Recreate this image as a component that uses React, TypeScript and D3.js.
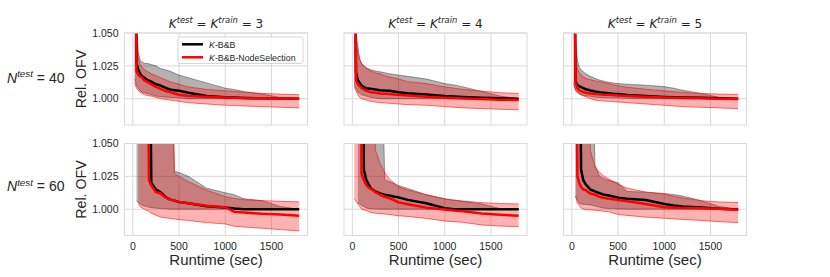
import React from 'react';
import * as d3 from 'd3';

const RUNTIME = [20, 40, 60, 80, 100, 125, 150, 175, 200, 250, 300, 350, 400, 450, 500, 600, 800, 1000, 1100, 1200, 1400, 1600, 1800];

const K_LIST = [3, 4, 5];
const N_LIST = [40, 60];
const X_TICKS = [0, 500, 1000, 1500];
const X_TICK_LABELS = ['0', '500', '1000', '1500'];
const Y_TICKS = [1.0, 1.025, 1.05];
const Y_TICK_LABELS = ['1.000', '1.025', '1.050'];
const SERIES = ['-B&B', '-B&B-NodeSelection'];

// N=40, K=3
const n40k3BaseMean = [1.2, 1.027, 1.022, 1.019, 1.017, 1.016, 1.0145, 1.0138, 1.013, 1.011, 1.010, 1.0085, 1.007, 1.0065, 1.006, 1.0045, 1.002, 1.0012, 1.0009, 1.0006, 1.0003, 1.0001, 1.0];
const n40k3BaseLo = [1.015, 1.010, 1.008, 1.006, 1.005, 1.0045, 1.004, 1.0035, 1.003, 1.002, 1.0015, 1.0012, 1.001, 1.0008, 1.0005, 1.0, 1.0, 1.0, 1.0, 1.0, 1.0, 1.0, 1.0];
const n40k3BaseHi = [1.2, 1.06, 1.035, 1.029, 1.028, 1.027, 1.027, 1.0265, 1.026, 1.025, 1.023, 1.022, 1.021, 1.0195, 1.018, 1.016, 1.012, 1.008, 1.007, 1.0055, 1.0035, 1.001, 1.0];
const n40k3NodeMean = [1.2, 1.021, 1.018, 1.017, 1.016, 1.014, 1.013, 1.012, 1.011, 1.009, 1.0075, 1.006, 1.005, 1.004, 1.003, 1.002, 1.0015, 1.001, 1.0008, 1.0006, 1.0003, 1.0001, 1.0];
const n40k3NodeLo = [1.012, 1.008, 1.006, 1.005, 1.004, 1.003, 1.0025, 1.0022, 1.002, 1.001, 1.0, 0.9995, 0.999, 0.9985, 0.998, 0.997, 0.996, 0.995, 0.9948, 0.9945, 0.994, 0.9935, 0.993];
const n40k3NodeHi = [1.2, 1.045, 1.03, 1.026, 1.024, 1.022, 1.021, 1.02, 1.019, 1.0175, 1.016, 1.0145, 1.013, 1.012, 1.011, 1.009, 1.007, 1.006, 1.0055, 1.005, 1.004, 1.0035, 1.003];

// N=40, K=4
const n40k4BaseMean = [1.2, 1.02, 1.014, 1.012, 1.010, 1.0088, 1.008, 1.0078, 1.0075, 1.007, 1.0065, 1.0062, 1.006, 1.0055, 1.005, 1.0042, 1.0032, 1.002, 1.0017, 1.0013, 1.0008, 1.0004, 1.0];
const n40k4BaseLo = [1.012, 1.008, 1.005, 1.004, 1.003, 1.0025, 1.002, 1.0015, 1.001, 1.0005, 1.0, 1.0, 1.0, 1.0, 1.0, 1.0, 1.0, 1.0, 1.0, 1.0, 1.0, 1.0, 1.0];
const n40k4BaseHi = [1.2, 1.05, 1.04, 1.03, 1.027, 1.025, 1.0235, 1.0228, 1.022, 1.021, 1.0205, 1.0198, 1.019, 1.0185, 1.018, 1.017, 1.015, 1.0115, 1.0105, 1.009, 1.0055, 1.002, 1.0];
const n40k4NodeMean = [1.2, 1.014, 1.011, 1.0095, 1.008, 1.007, 1.006, 1.0055, 1.005, 1.0045, 1.004, 1.0038, 1.0035, 1.0032, 1.003, 1.0025, 1.0015, 1.0008, 1.0005, 1.0002, 0.9998, 0.9993, 0.999];
const n40k4NodeLo = [1.01, 1.006, 1.003, 1.001, 1.0, 0.9995, 0.999, 0.9985, 0.998, 0.9975, 0.997, 0.9968, 0.9965, 0.9962, 0.996, 0.9955, 0.995, 0.994, 0.9935, 0.993, 0.9925, 0.992, 0.9915];
const n40k4NodeHi = [1.2, 1.045, 1.035, 1.03, 1.027, 1.025, 1.0235, 1.0222, 1.021, 1.0195, 1.019, 1.0175, 1.0165, 1.0158, 1.015, 1.013, 1.0115, 1.009, 1.008, 1.007, 1.0058, 1.0045, 1.004];

// N=40, K=5
const n40k5BaseMean = [1.2, 1.013, 1.0105, 1.0095, 1.0088, 1.008, 1.0072, 1.0068, 1.0063, 1.0055, 1.005, 1.0046, 1.0042, 1.0038, 1.0035, 1.0028, 1.002, 1.0014, 1.0012, 1.001, 1.0007, 1.0004, 1.0];
const n40k5BaseLo = [1.012, 1.006, 1.0045, 1.0035, 1.003, 1.0025, 1.0022, 1.002, 1.0018, 1.0012, 1.001, 1.0008, 1.0007, 1.0006, 1.0005, 1.0003, 1.0, 1.0, 1.0, 1.0, 1.0, 1.0, 1.0];
const n40k5BaseHi = [1.2, 1.045, 1.03, 1.024, 1.022, 1.0205, 1.019, 1.018, 1.017, 1.0155, 1.0142, 1.0133, 1.0125, 1.012, 1.0115, 1.011, 1.0103, 1.0092, 1.008, 1.0065, 1.004, 1.001, 1.0];
const n40k5NodeMean = [1.2, 1.012, 1.008, 1.0065, 1.0057, 1.005, 1.0046, 1.0043, 1.004, 1.0036, 1.0033, 1.0031, 1.003, 1.0028, 1.0025, 1.002, 1.0015, 1.001, 1.0008, 1.0006, 1.0003, 1.0, 0.9998];
const n40k5NodeLo = [1.01, 1.007, 1.005, 1.004, 1.003, 1.0022, 1.0015, 1.0008, 1.0, 0.999, 0.9985, 0.9982, 0.998, 0.9978, 0.9975, 0.997, 0.996, 0.995, 0.9945, 0.994, 0.9935, 0.993, 0.9925];
const n40k5NodeHi = [1.2, 1.03, 1.023, 1.02, 1.018, 1.0165, 1.0155, 1.015, 1.0145, 1.0135, 1.013, 1.012, 1.0115, 1.0105, 1.0098, 1.0087, 1.0072, 1.006, 1.0054, 1.0048, 1.004, 1.0035, 1.0033];

// N=60, K=3
const n60k3BaseMean = [null, null, null, null, null, null, null, 1.2, 1.02, 1.015, 1.013, 1.0095, 1.0075, 1.0065, 1.0055, 1.0045, 1.0023, 1.0013, 1.0005, 1.0, 1.0, 1.0, 1.0];
const n60k3BaseLo = [null, 1.006, 1.005, 1.004, 1.003, 1.0025, 1.002, 1.0015, 1.0012, 1.0008, 1.0005, 1.0003, 1.0, 1.0, 1.0, 1.0, 1.0, 1.0, 1.0, 1.0, 1.0, 1.0, 1.0];
const n60k3BaseHi = [null, 1.2, 1.2, 1.2, 1.2, 1.2, 1.2, 1.2, 1.2, 1.2, 1.2, 1.2, 1.2, 1.0287, 1.028, 1.025, 1.016, 1.0125, 1.011, 1.008, 1.0065, 1.002, 1.0];
const n60k3NodeMean = [null, null, null, null, null, null, 1.2, 1.022, 1.018, 1.013, 1.012, 1.009, 1.0075, 1.0065, 1.0055, 1.0045, 1.0027, 1.0015, 0.998, 0.9975, 0.9965, 0.996, 0.995];
const n60k3NodeLo = [null, null, 1.004, 1.002, 1.001, 1.0, 0.999, 0.9985, 0.997, 0.9955, 0.994, 0.9935, 0.993, 0.9925, 0.992, 0.9915, 0.9898, 0.9888, 0.987, 0.9865, 0.9855, 0.9845, 0.9835];
const n60k3NodeHi = [null, null, 1.2, 1.2, 1.2, 1.2, 1.2, 1.2, 1.2, 1.2, 1.2, 1.2, 1.2, 1.027, 1.025, 1.021, 1.0145, 1.0095, 1.0082, 1.0072, 1.0065, 1.006, 1.0056];

// N=60, K=4
const n60k4BaseMean = [null, null, null, null, 1.2, 1.03, 1.0225, 1.019, 1.016, 1.0135, 1.012, 1.011, 1.0105, 1.0097, 1.009, 1.0071, 1.0045, 1.0008, 1.0, 1.0, 1.0, 1.0, 1.0];
const n60k4BaseLo = [null, null, 1.005, 1.004, 1.003, 1.002, 1.001, 1.0005, 1.0003, 1.0002, 1.0, 1.0, 1.0, 1.0, 1.0, 1.0, 1.0, 1.0, 1.0, 1.0, 1.0, 1.0, 1.0];
const n60k4BaseHi = [null, null, 1.2, 1.2, 1.2, 1.2, 1.2, 1.2, 1.2, 1.2, 1.2, 1.0225, 1.021, 1.0195, 1.018, 1.0158, 1.011, 1.0078, 1.0071, 1.006, 1.004, 1.0005, 1.0];
const n60k4NodeMean = [null, null, null, 1.2, 1.027, 1.022, 1.0186, 1.0165, 1.0155, 1.013, 1.011, 1.0095, 1.0082, 1.007, 1.0052, 1.0038, 1.0012, 0.9998, 0.999, 0.9985, 0.9968, 0.9958, 0.995];
const n60k4NodeLo = [1.008, 1.006, 1.004, 1.002, 1.0, 0.9995, 0.999, 0.9982, 0.9975, 0.997, 0.9966, 0.9964, 0.996, 0.9955, 0.995, 0.9945, 0.993, 0.991, 0.9905, 0.99, 0.988, 0.9872, 0.9867];
const n60k4NodeHi = [1.2, 1.2, 1.2, 1.2, 1.2, 1.2, 1.2, 1.2, 1.2, 1.045, 1.035, 1.028, 1.023, 1.02, 1.017, 1.0145, 1.011, 1.008, 1.0066, 1.0062, 1.005, 1.0043, 1.004];

// N=60, K=5
const n60k5BaseMean = [null, null, null, 1.2, 1.03, 1.022, 1.019, 1.017, 1.015, 1.0135, 1.0122, 1.011, 1.0105, 1.0097, 1.0088, 1.008, 1.007, 1.004, 1.0028, 1.002, 1.0013, 1.0003, 0.9998];
const n60k5BaseLo = [null, 1.01, 1.007, 1.0046, 1.004, 1.0036, 1.0035, 1.0034, 1.0033, 1.0025, 1.0015, 1.0008, 1.0005, 1.0003, 1.0002, 1.0, 1.0, 1.0, 1.0, 1.0, 1.0, 1.0, 1.0];
const n60k5BaseHi = [null, 1.2, 1.2, 1.2, 1.2, 1.2, 1.2, 1.2, 1.2, 1.034, 1.025, 1.0232, 1.022, 1.021, 1.0202, 1.0135, 1.013, 1.012, 1.0112, 1.01, 1.0065, 1.002, 1.0];
const n60k5NodeMean = [null, 1.2, 1.025, 1.02, 1.017, 1.015, 1.0145, 1.013, 1.012, 1.011, 1.0095, 1.0085, 1.008, 1.0075, 1.007, 1.006, 1.004, 1.0015, 1.0012, 1.001, 1.0007, 1.0003, 0.9995];
const n60k5NodeLo = [null, 1.01, 1.0045, 1.003, 1.001, 1.0, 0.9998, 0.9996, 0.9995, 0.9992, 0.999, 0.9984, 0.998, 0.997, 0.996, 0.9953, 0.994, 0.9931, 0.9927, 0.9922, 0.9915, 0.9905, 0.9898];
const n60k5NodeHi = [null, 1.2, 1.2, 1.2, 1.2, 1.2, 1.2, 1.2, 1.045, 1.032, 1.028, 1.025, 1.023, 1.021, 1.019, 1.016, 1.013, 1.0115, 1.0098, 1.0085, 1.0065, 1.0055, 1.0051];

type Arr = (number | null)[];
type Band = { mean: Arr; lo: Arr; hi: Arr };

const PANELS: { base: Band; node: Band }[][] = [
  [
    { base: { mean: n40k3BaseMean, lo: n40k3BaseLo, hi: n40k3BaseHi }, node: { mean: n40k3NodeMean, lo: n40k3NodeLo, hi: n40k3NodeHi } },
    { base: { mean: n40k4BaseMean, lo: n40k4BaseLo, hi: n40k4BaseHi }, node: { mean: n40k4NodeMean, lo: n40k4NodeLo, hi: n40k4NodeHi } },
    { base: { mean: n40k5BaseMean, lo: n40k5BaseLo, hi: n40k5BaseHi }, node: { mean: n40k5NodeMean, lo: n40k5NodeLo, hi: n40k5NodeHi } },
  ],
  [
    { base: { mean: n60k3BaseMean, lo: n60k3BaseLo, hi: n60k3BaseHi }, node: { mean: n60k3NodeMean, lo: n60k3NodeLo, hi: n60k3NodeHi } },
    { base: { mean: n60k4BaseMean, lo: n60k4BaseLo, hi: n60k4BaseHi }, node: { mean: n60k4NodeMean, lo: n60k4NodeLo, hi: n60k4NodeHi } },
    { base: { mean: n60k5BaseMean, lo: n60k5BaseLo, hi: n60k5BaseHi }, node: { mean: n60k5NodeMean, lo: n60k5NodeLo, hi: n60k5NodeHi } },
  ],
];

const W = 830;
const H = 277;
const COL_X = [124.5, 344, 563.5];
const ROW_Y = [33, 143.5];
const PW = 183;
const PH = 92;
const X_DOMAIN = [-90, 1890];
const Y_DOMAIN = [0.98, 1.05];

const SANS = '"Liberation Sans", Arial, sans-serif';
const DEJAVU = '"DejaVu Sans", sans-serif';
const TEXT = '#262626';
const GRID = '#d9d9d9';

const idx = d3.range(RUNTIME.length);

function Panel({ row, col }: { row: number; col: number }) {
  const x0 = COL_X[col];
  const y0 = ROW_Y[row];
  const x = d3.scaleLinear().domain(X_DOMAIN).range([x0, x0 + PW]);
  const y = d3.scaleLinear().domain(Y_DOMAIN).range([y0 + PH, y0]);
  const p = PANELS[row][col];
  const clipId = `clip-${row}-${col}`;

  const bandPath = (b: Band) =>
    d3
      .area<number>()
      .defined((i) => b.lo[i] != null && b.hi[i] != null)
      .x((i) => x(RUNTIME[i]))
      .y0((i) => y(b.lo[i] as number))
      .y1((i) => y(b.hi[i] as number))(idx) || '';

  const linePath = (vals: Arr) =>
    d3
      .line<number>()
      .defined((i) => vals[i] != null)
      .x((i) => x(RUNTIME[i]))
      .y((i) => y(vals[i] as number))(idx) || '';

  return (
    <g>
      <defs>
        <clipPath id={clipId}>
          <rect x={x0} y={y0} width={PW} height={PH} />
        </clipPath>
      </defs>
      <rect x={x0} y={y0} width={PW} height={PH} fill="white" />
      {X_TICKS.map((t) => (
        <line key={'gx' + t} x1={x(t)} x2={x(t)} y1={y0} y2={y0 + PH} stroke={GRID} strokeWidth={1} />
      ))}
      {Y_TICKS.map((t) => (
        <line key={'gy' + t} x1={x0} x2={x0 + PW} y1={y(t)} y2={y(t)} stroke={GRID} strokeWidth={1} />
      ))}
      <g clipPath={`url(#${clipId})`}>
        <path d={bandPath(p.base)} fill="black" fillOpacity={0.3} />
        <path d={linePath(p.base.hi)} fill="none" stroke="black" strokeOpacity={0.45} strokeWidth={0.8} />
        <path d={linePath(p.base.lo)} fill="none" stroke="black" strokeOpacity={0.45} strokeWidth={0.8} />
        <path d={bandPath(p.node)} fill="red" fillOpacity={0.3} />
        <path d={linePath(p.node.hi)} fill="none" stroke="red" strokeOpacity={0.7} strokeWidth={0.8} />
        <path d={linePath(p.node.lo)} fill="none" stroke="red" strokeOpacity={0.7} strokeWidth={0.8} />
        <path d={linePath(p.base.mean)} fill="none" stroke="black" strokeWidth={2.5} strokeLinejoin="round" />
        <path d={linePath(p.node.mean)} fill="none" stroke="red" strokeWidth={2.5} strokeLinejoin="round" />
      </g>
      <rect x={x0} y={y0} width={PW} height={PH} fill="none" stroke={GRID} strokeWidth={1} />

      {col === 0 &&
        Y_TICKS.map((t, i) => (
          <text key={'yl' + t} x={x0 - 6} y={y(t)} dy="0.35em" textAnchor="end" fontFamily={SANS} fontSize={10.5} fill={TEXT}>
            {Y_TICK_LABELS[i]}
          </text>
        ))}
      {row === 1 &&
        X_TICKS.map((t, i) => (
          <text key={'xl' + t} x={x(t)} y={y0 + PH + 14} textAnchor="middle" fontFamily={SANS} fontSize={10.5} fill={TEXT}>
            {X_TICK_LABELS[i]}
          </text>
        ))}
      {row === 1 && (
        <text x={x0 + PW / 2} y={y0 + PH + 29.5} textAnchor="middle" fontFamily={SANS} fontSize={15} fill={TEXT}>
          Runtime (sec)
        </text>
      )}
      {col === 0 && (
        <text
          transform={`translate(${x0 - 38.5},${y0 + PH / 2}) rotate(-90)`}
          textAnchor="middle"
          fontFamily={SANS}
          fontSize={14.2}
          fill={TEXT}
        >
          Rel. OFV
        </text>
      )}
      {row === 0 && (
        <text x={x0 + PW / 2} y={27.5} textAnchor="middle" fontFamily={DEJAVU} fontSize={12} fill={TEXT}>
          <tspan fontStyle="italic">K</tspan>
          <tspan fontStyle="italic" fontSize={8.4} dy={-4.5}>test</tspan>
          <tspan dy={4.5}> = </tspan>
          <tspan fontStyle="italic">K</tspan>
          <tspan fontStyle="italic" fontSize={8.4} dy={-4.5}>train</tspan>
          <tspan dy={4.5}> = {K_LIST[col]}</tspan>
        </text>
      )}
      {col === 0 && (
        <text x={7} y={row === 0 ? 82.5 : 191} fontFamily={SANS} fontSize={14} fill={TEXT}>
          <tspan fontStyle="italic">N</tspan>
          <tspan fontStyle="italic" fontSize={9.8} dy={-5.5}>test</tspan>
          <tspan dy={5.5}> = {N_LIST[row]}</tspan>
        </text>
      )}
    </g>
  );
}

function Legend() {
  const lx = 178;
  const ly = 37;
  return (
    <g>
      <rect x={lx} y={ly} width={125} height={26.5} rx={2} fill="white" fillOpacity={0.85} stroke="#cccccc" strokeWidth={0.8} />
      {SERIES.map((s, i) => (
        <g key={s}>
          <line x1={lx + 4} x2={lx + 25} y1={ly + 7.3 + i * 13} y2={ly + 7.3 + i * 13} stroke={i === 0 ? 'black' : 'red'} strokeWidth={2.5} />
          <text x={lx + 31} y={ly + 10.5 + i * 13} fontFamily={SANS} fontSize={8.8} fill={TEXT}>
            <tspan fontStyle="italic">K</tspan>
            {s}
          </text>
        </g>
      ))}
    </g>
  );
}

export default function App() {
  return (
    <svg width={W} height={H} style={{ position: 'absolute', left: 0, top: 0, background: 'white' }}>
      {N_LIST.map((_, r) => K_LIST.map((__, c) => <Panel key={`${r}-${c}`} row={r} col={c} />))}
      <Legend />
    </svg>
  );
}
